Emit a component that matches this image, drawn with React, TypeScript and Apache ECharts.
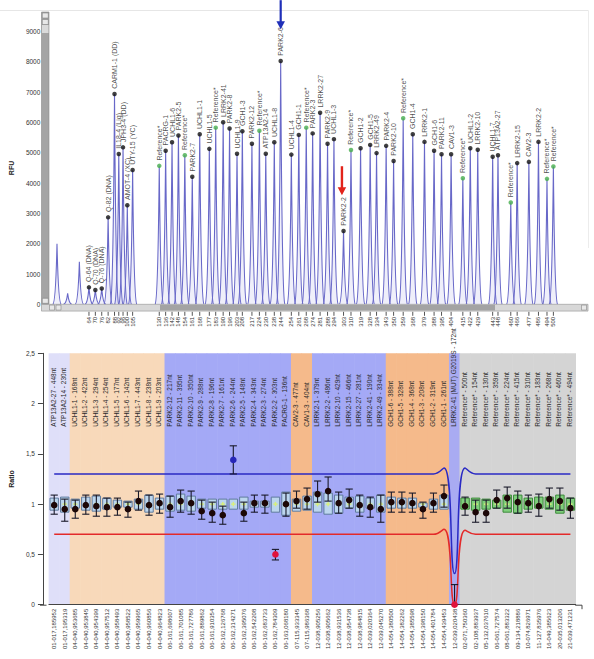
import React, { useEffect, useRef } from "react";
import * as echarts from "echarts";

const FONT = 'Arial, "Liberation Sans", Helvetica, sans-serif';

// ================= Top panel: electropherogram =================
const peakSizes = [
  64, 70, 76, 82, 88, 92, 96, 100, 105,
  130, 136, 142, 148, 154, 161, 168, 177, 183, 190,
  196, 203, 208, 217, 224, 230, 238, 244, 254, 261,
  268, 274, 281, 288, 294, 303, 310, 319, 328, 334,
  343, 350, 359, 368, 379, 388, 395, 404, 415, 422,
  429, 443, 448, 460, 466, 477, 486, 494, 500,
];
const peakNames = [
  "Q-64 (DNA)", "Q-70 (DNA)", "Q-76 (DNA)", "Q-82 (DNA)", "CARM1-1 (DD)", "IL18-4 (Lig)", "JPH3-4 (DD)", "AMOT-4 (XC)", "UTY-15 (YC)",
  "Reference*", "PACRG-1", "UCHL1-6", "PARK2-5", "Reference*", "PARK2-7", "UCHL1-1", "UCHL1-5", "Reference*", "LRRK2-41",
  "PARK2-8", "UCHL1-9", "GCH1-3", "PARK2-12", "Reference*", "ATP13A2-14", "UCHL1-8", "PARK2-6", "UCHL1-4", "GCH1-1",
  "Reference*", "PARK2-3", "LRRK2-27", "PARK2-9", "UCHL1-3", "PARK2-2", "Reference*", "GCH1-2", "GCH1-5", "LRRK2-49",
  "PARK2-4", "PARK2-10", "Reference*", "GCH1-4", "LRRK2-1", "GCH1-6", "PARK2-11", "CAV1-3", "Reference*", "UCHL1-2",
  "LRRK2-10", "UCHL1-7", "ATP13A2-27", "Reference*", "LRRK2-15", "CAV2-3", "LRRK2-2", "Reference*", "Reference*",
];
const peakRFU = [
  560, 470, 520, 2870, 6940, 4960, 5180, 3270, 4430,
  4570, 5070, 5350, 5570, 4920, 4210, 5610, 5130, 5830, 6010,
  5800, 4970, 5710, 5300, 5730, 4970, 5350, 8030, 4940, 5590,
  5830, 5640, 6320, 5300, 5450, 2420, 5090, 5150, 5260, 4990,
  5230, 4730, 6140, 5610, 5360, 5070, 4950, 4950, 4160, 5150,
  5100, 4870, 4920, 3360, 4660, 4700, 5360, 4140, 4550,
];
const primerSizes = [34, 44, 55];
const primerRFU = [2000, 360, 1400];

const sizeMin = 33.4;
const sizeMax = 532.5;
const rfuMax = 9000;
const rfuStep = 1000;

const arrowMarks = [
  { size: 244, tipRFU: 9080, color: "#1f2fb8", width: 2.2 },
  { size: 301.5, tipRFU: 3600, color: "#e2231a", width: 2.4 },
];

// ================= Bottom panel: ratio chart =================
const probeLabels = [
  "ATP13A2-27 - 448nt", "ATP13A2-14 - 230nt",
  "UCHL1-1 - 168nt", "UCHL1-2 - 422nt", "UCHL1-3 - 294nt", "UCHL1-4 - 254nt", "UCHL1-5 - 177nt", "UCHL1-6 - 142nt", "UCHL1-7 - 443nt", "UCHL1-8 - 238nt", "UCHL1-9 - 203nt",
  "PARK2-12 - 217nt", "PARK2-11 - 395nt", "PARK2-10 - 350nt", "PARK2-9 - 288nt", "PARK2-8 - 196nt", "PARK2-7 - 161nt", "PARK2-6 - 244nt", "PARK2-5 - 148nt", "PARK2-4 - 343nt", "PARK2-3 - 274nt", "PARK2-2 - 303nt", "PACRG-1 - 136nt",
  "CAV2-3 - 477nt", "CAV1-3 - 404nt",
  "LRRK2-1 - 379nt", "LRRK2-2 - 486nt", "LRRK2-10 - 429nt", "LRRK2-15 - 466nt", "LRRK2-27 - 281nt", "LRRK2-41 - 190nt", "LRRK2-49 - 334nt",
  "GCH1-6 - 388nt", "GCH1-5 - 328nt", "GCH1-4 - 368nt", "GCH1-3 - 208nt", "GCH1-2 - 319nt", "GCH1-1 - 261nt",
  "LRRK2-41 (MUT) G2019S - 172nt",
  "Reference* - 500nt", "Reference* - 154nt", "Reference* - 130nt", "Reference* - 359nt", "Reference* - 224nt", "Reference* - 415nt", "Reference* - 310nt", "Reference* - 183nt", "Reference* - 268nt", "Reference* - 460nt", "Reference* - 494nt",
];
const chromPos = [
  "01-017,185952", "01-017,195319",
  "04-040,953685", "04-040,953845", "04-040,954399", "04-040,957512", "04-040,958493", "04-040,958522", "04-040,959965", "04-040,960856", "04-040,964823",
  "06-161,698607", "06-161,701085", "06-161,727786", "06-161,889862", "06-161,910354", "06-162,126768", "06-162,314271", "06-162,395076", "06-162,542208", "06-162,683733", "06-162,784309", "06-163,068180",
  "07-115,933345", "07-115,986368",
  "12-038,905256", "12-038,905662", "12-038,931536", "12-038,954738", "12-038,984815", "12-039,020364", "12-039,045270",
  "14-054,380500", "14-054,382262", "14-054,385598", "14-054,398150", "14-054,401784", "14-054,439453",
  "12-039,020438",
  "02-071,750360", "02-108,883937", "05-132,037610", "06-061,727574", "08-061,883322", "09-134,218886", "10-074,826971", "11-127,835976", "16-049,385623", "20-035,013206", "21-039,471231",
];
const probeGroup = [
  "ATP13A2", "ATP13A2",
  "UCHL1", "UCHL1", "UCHL1", "UCHL1", "UCHL1", "UCHL1", "UCHL1", "UCHL1", "UCHL1",
  "PARK2", "PARK2", "PARK2", "PARK2", "PARK2", "PARK2", "PARK2", "PARK2", "PARK2", "PARK2", "PARK2", "PARK2",
  "CAV", "CAV",
  "LRRK2", "LRRK2", "LRRK2", "LRRK2", "LRRK2", "LRRK2", "LRRK2",
  "GCH1", "GCH1", "GCH1", "GCH1", "GCH1", "GCH1",
  "MUT",
  "Reference", "Reference", "Reference", "Reference", "Reference", "Reference", "Reference", "Reference", "Reference", "Reference", "Reference",
];
const groupColors: Record<string, string> = {
  ATP13A2: "#dfdff9",
  UCHL1: "#f8d9ba",
  PARK2: "#a4a9f6",
  CAV: "#f5ba8b",
  LRRK2: "#a4a9f6",
  GCH1: "#f5ba8b",
  MUT: "#a9abf2",
  Reference: "#d4d4d4",
};
const ratio = [
  0.99, 0.95,
  0.95, 0.99, 0.98, 0.97, 0.97, 0.95, 1.03, 0.99, 1.01,
  0.97, 1.03, 1.01, 0.93, 0.91, 0.89, 1.44, 0.91, 1.01, 1.01, 0.5, 1.0,
  1.03, 1.05,
  1.1, 1.13, 1.01, 1.04, 0.99, 0.97, 0.95,
  1.02, 1.02, 1.01, 0.95, 1.01, 1.08,
  0.0,
  0.98, 0.92, 0.91, 1.04, 1.06, 1.02, 1.01, 0.98, 1.05, 1.03, 0.96,
];
const ratioLow = [
  0.9, 0.83,
  0.86, 0.9, 0.88, 0.88, 0.89, 0.87, 0.94, 0.89, 0.91,
  0.87, 0.92, 0.9, 0.85, 0.82, 0.8, 1.3, 0.83, 0.92, 0.91, 0.445, 0.88,
  0.96, 0.95,
  1.02, 1.03, 0.91, 0.96, 0.88, 0.87, 0.82,
  0.92, 0.92, 0.92, 0.86, 0.92, 0.97,
  0.0,
  0.89, 0.82, 0.82, 0.96, 0.96, 0.91, 0.92, 0.88, 0.96, 0.94, 0.86,
];
const ratioHigh = [
  1.09, 1.05,
  1.04, 1.09, 1.09, 1.06, 1.06, 1.02, 1.13, 1.09, 1.1,
  1.08, 1.14, 1.13, 1.04, 1.02, 0.98, 1.58, 1.02, 1.09, 1.09, 0.55, 1.11,
  1.13, 1.16,
  1.23, 1.27, 1.12, 1.15, 1.09, 1.07, 1.09,
  1.12, 1.12, 1.11, 1.02, 1.11, 1.19,
  0.2,
  1.07, 1.04, 1.04, 1.14, 1.17, 1.13, 1.09, 1.1, 1.16, 1.16, 1.06,
];
const boxLow = [
  0.94, 0.92,
  0.96, 0.94, 0.93, 0.95, 0.97, 0.97, 0.95, 0.92, 0.95,
  0.93, 0.94, 0.93, 0.96, 0.95, 0.95, 0.95, 0.95, 0.97, 0.97, 0.92, 0.89,
  0.93, 0.94,
  0.92, 0.9, 0.91, 0.96, 0.92, 0.96, 0.92,
  0.96, 0.96, 0.96, 0.97, 0.95, 0.95,
  null,
  0.95, 0.94, 0.95, 0.96, 0.92, 0.91, 0.95, 0.96, 0.95, 0.91, 0.94,
];
const boxHigh = [
  1.06, 1.07,
  1.05, 1.07, 1.08, 1.06, 1.04, 1.03, 1.05, 1.09, 1.06,
  1.08, 1.1, 1.08, 1.05, 1.05, 1.05, 1.05, 1.07, 1.03, 1.03, 1.07, 1.12,
  1.05, 1.08,
  1.12, 1.11, 1.09, 1.07, 1.08, 1.06, 1.09,
  1.07, 1.06, 1.06, 1.01, 1.05, 1.09,
  null,
  1.06, 1.06, 1.05, 1.04, 1.09, 1.09, 1.06, 1.07, 1.07, 1.09, 1.06,
];
const boxMid = [
  1, 1,
  1, 1, 1, 1, 1, 1, 1, 1, 1,
  1, 1, 1, 1, 1, 1, 1, 1, 1, 1, 1, 1,
  1, 1,
  1, 1, 1, 1, 1, 1, 1,
  1, 1, 1, 1, 1, 1,
  null,
  1, 1, 1, 1, 1, 1, 1, 1, 1, 1, 1,
];
const upperLimit = [
  1.3, 1.3,
  1.3, 1.3, 1.3, 1.3, 1.3, 1.3, 1.3, 1.3, 1.3,
  1.3, 1.3, 1.3, 1.3, 1.3, 1.3, 1.3, 1.3, 1.3, 1.3, 1.3, 1.3,
  1.3, 1.3,
  1.3, 1.3, 1.3, 1.3, 1.3, 1.3, 1.3,
  1.3, 1.3, 1.3, 1.3, 1.3, 1.36,
  0.31,
  1.36, 1.3, 1.3, 1.3, 1.3, 1.3, 1.3, 1.3, 1.3, 1.3, 1.3,
];
const lowerLimit = [
  0.7, 0.7,
  0.7, 0.7, 0.7, 0.7, 0.7, 0.7, 0.7, 0.7, 0.7,
  0.7, 0.7, 0.7, 0.7, 0.7, 0.7, 0.7, 0.7, 0.7, 0.7, 0.7, 0.7,
  0.7, 0.7,
  0.7, 0.7, 0.7, 0.7, 0.7, 0.7, 0.7,
  0.7, 0.7, 0.7, 0.7, 0.7, 0.75,
  0.0,
  0.74, 0.7, 0.7, 0.7, 0.7, 0.7, 0.7, 0.7, 0.7, 0.7, 0.7,
];
const ratioMax = 2.5;
const ratioStep = 0.5;
const labelAnchorRatio = 1.77;

// ================= layout =================
const TOP = { left: 49, top: 31.6, width: 539, height: 272.7 };
const BOT = { left: 46, top: 353.3, width: 529.7, height: 251.4 };

function buildOption(): any {
  const allPeaks = [
    ...primerSizes.map((s, i) => [s, primerRFU[i]]),
    ...peakSizes.map((s, i) => [s, peakRFU[i]]),
  ];
  return {
    animation: false,
    backgroundColor: "#ffffff",
    textStyle: { fontFamily: FONT },
    grid: [
      { left: TOP.left, top: TOP.top, width: TOP.width, height: TOP.height },
      { left: BOT.left, top: BOT.top, width: BOT.width, height: BOT.height },
    ],
    xAxis: [
      { gridIndex: 0, type: "value", min: sizeMin, max: sizeMax, show: false },
      {
        gridIndex: 1,
        type: "category",
        data: chromPos,
        boundaryGap: true,
        axisLine: { lineStyle: { color: "#444", width: 1 } },
        axisTick: { alignWithLabel: true, length: 4, lineStyle: { color: "#444" } },
        axisLabel: { rotate: 90, interval: 0, fontSize: 6, color: "#333", margin: 4, fontFamily: FONT },
        splitLine: { show: false },
      },
    ],
    yAxis: [
      {
        gridIndex: 0,
        type: "value",
        min: 0,
        max: rfuMax,
        interval: rfuStep,
        offset: 8,
        axisLine: { show: false },
        axisTick: { show: true, length: 6, lineStyle: { color: "#555" } },
        axisLabel: { fontSize: 6.5, color: "#333", margin: 8, fontFamily: FONT, formatter: (v: number) => String(v) },
        splitLine: { show: false },
        name: "RFU",
        nameLocation: "middle",
        nameGap: 31,
        nameTextStyle: { fontWeight: "bold", fontSize: 7, color: "#222", fontFamily: FONT },
      },
      {
        gridIndex: 1,
        type: "value",
        min: 0,
        max: ratioMax,
        interval: ratioStep,
        offset: 6,
        axisLine: { show: true, lineStyle: { color: "#444" } },
        axisTick: { show: true, length: 5, lineStyle: { color: "#444" } },
        axisLabel: {
          fontSize: 6.5,
          color: "#333",
          margin: 8,
          fontFamily: FONT,
          formatter: (v: number) => String(v).replace(".", ","),
        },
        splitLine: { show: false },
        name: "Ratio",
        nameLocation: "middle",
        nameGap: 25,
        nameTextStyle: { fontWeight: "bold", fontSize: 7, color: "#222", fontFamily: FONT },
      },
    ],
    series: [
      // ---- peaks
      {
        type: "custom",
        xAxisIndex: 0,
        yAxisIndex: 0,
        clip: false,
        silent: true,
        z: 2,
        data: allPeaks,
        renderItem: (params: any, api: any) => {
          const s = api.value(0);
          const h = api.value(1);
          const top = api.coord([s, h]);
          const base = api.coord([s, 0]);
          const tx = top[0];
          const ty = top[1];
          const by = base[1];
          const H = by - ty;
          const w = 4.2;
          const d =
            `M${tx - w},${by} C${tx - w * 0.3},${by - H * 0.02} ${tx - 0.5},${ty + H * 0.35} ${tx},${ty} ` +
            `C${tx + 0.5},${ty + H * 0.35} ${tx + w * 0.3},${by - H * 0.02} ${tx + w},${by}`;
          return {
            type: "path",
            shape: { pathData: d },
            style: { fill: "rgba(120,120,210,0.12)", stroke: "#6868c8", lineWidth: 1.1 },
          };
        },
      },
      // ---- peak dots + names
      {
        type: "scatter",
        xAxisIndex: 0,
        yAxisIndex: 0,
        symbolSize: 4.5,
        z: 5,
        silent: true,
        data: peakSizes.map((s, i) => ({
          value: [s, peakRFU[i]],
          name: peakNames[i],
          itemStyle: { color: peakNames[i].startsWith("Reference") ? "#46ae4e" : "#111111" },
        })),
        label: {
          show: true,
          formatter: "{b}",
          position: "top",
          rotate: 90,
          align: "left",
          verticalAlign: "middle",
          distance: 3,
          fontSize: 7,
          color: "#222",
          fontFamily: FONT,
        },
      },
      // ---- size ticks & labels under the scroll bar
      {
        type: "custom",
        xAxisIndex: 0,
        yAxisIndex: 0,
        clip: false,
        silent: true,
        z: 5,
        data: peakSizes.map((s) => [s, 0]),
        renderItem: (params: any, api: any) => {
          const p = api.coord([api.value(0), 0]);
          const idx = params.dataIndex;
          return {
            type: "group",
            children: [
              { type: "line", shape: { x1: p[0], y1: p[1] + 7.5, x2: p[0], y2: p[1] + 11.5 }, style: { stroke: "#555", lineWidth: 1 } },
              {
                type: "text",
                x: p[0],
                y: p[1] + 12.5,
                rotation: Math.PI / 2,
                style: { text: String(peakSizes[idx]), fontSize: 6, fill: "#333", align: "right", verticalAlign: "middle", fontFamily: FONT },
              },
            ],
          };
        },
      },
      // ---- coloured gene bands
      {
        type: "custom",
        xAxisIndex: 1,
        yAxisIndex: 1,
        silent: true,
        z: 0,
        data: chromPos.map((_, i) => [i, ratioMax]),
        renderItem: (params: any, api: any) => {
          const i = params.dataIndex;
          const top = api.coord([i, api.value(1)]);
          const bot = api.coord([i, 0]);
          const w = api.size([1, 0])[0];
          return {
            type: "rect",
            shape: { x: top[0] - w / 2 - 0.3, y: top[1], width: w + 0.6, height: bot[1] - top[1] },
            style: { fill: groupColors[probeGroup[i]] },
          };
        },
      },
      // ---- probe name labels
      {
        type: "custom",
        xAxisIndex: 1,
        yAxisIndex: 1,
        silent: true,
        clip: false,
        z: 1,
        data: chromPos.map((_, i) => [i, labelAnchorRatio]),
        renderItem: (params: any, api: any) => {
          const i = params.dataIndex;
          const p = api.coord([i, api.value(1)]);
          return {
            type: "text",
            x: p[0] - 1,
            y: p[1],
            rotation: Math.PI / 2,
            style: { text: probeLabels[i], fontSize: 6.5, fill: "#2a2a2a", align: "left", verticalAlign: "middle", fontFamily: FONT },
          };
        },
      },
      // ---- threshold lines
      {
        type: "line",
        xAxisIndex: 1,
        yAxisIndex: 1,
        data: upperLimit,
        smooth: 0.5,
        symbol: "none",
        silent: true,
        z: 3,
        lineStyle: { color: "#2a2ac4", width: 1.5 },
      },
      {
        type: "line",
        xAxisIndex: 1,
        yAxisIndex: 1,
        data: lowerLimit,
        smooth: 0.5,
        symbol: "none",
        silent: true,
        z: 3,
        lineStyle: { color: "#e32a2a", width: 1.5 },
      },
      // ---- boxes, error bars, ratio dots
      {
        type: "custom",
        xAxisIndex: 1,
        yAxisIndex: 1,
        silent: true,
        clip: false,
        z: 4,
        data: ratio.map((r, i) => [i, r]),
        renderItem: (params: any, api: any) => {
          const i = params.dataIndex;
          const cw = api.size([1, 0])[0];
          const cx = api.coord([i, 1])[0];
          const kids: any[] = [];
          const bl = boxLow[i];
          const bh = boxHigh[i];
          if (bl != null && bh != null) {
            const yTop = api.coord([i, bh])[1];
            const yBot = api.coord([i, bl])[1];
            const bw = cw * 0.8;
            const isRef = probeGroup[i] === "Reference";
            kids.push({
              type: "rect",
              shape: { x: cx - bw / 2, y: yTop, width: bw, height: yBot - yTop },
              style: { fill: isRef ? "#80cf7c" : "#bcd6ee", stroke: isRef ? "#3c8a3a" : "#5f7b9e", lineWidth: 1 },
            });
            const bm = boxMid[i];
            if (bm != null) {
              const ym = api.coord([i, bm])[1];
              kids.push({ type: "line", shape: { x1: cx - 2.2, y1: ym, x2: cx + 2.2, y2: ym }, style: { stroke: "#d8ef7c", lineWidth: 1.4 } });
              kids.push({ type: "line", shape: { x1: cx, y1: ym - 2.2, x2: cx, y2: ym + 2.2 }, style: { stroke: "#d8ef7c", lineWidth: 1.4 } });
            }
          }
          const yl = api.coord([i, ratioLow[i]])[1];
          const yh = api.coord([i, ratioHigh[i]])[1];
          const cap = 3.6;
          const wc = "#1a1a2a";
          if (Math.abs(yl - yh) > 0.5) {
            kids.push({ type: "line", shape: { x1: cx, y1: yh, x2: cx, y2: yl }, style: { stroke: wc, lineWidth: 1.1 } });
            kids.push({ type: "line", shape: { x1: cx - cap, y1: yh, x2: cx + cap, y2: yh }, style: { stroke: wc, lineWidth: 1.1 } });
            kids.push({ type: "line", shape: { x1: cx - cap, y1: yl, x2: cx + cap, y2: yl }, style: { stroke: wc, lineWidth: 1.1 } });
          }
          const r = ratio[i];
          const color = r > upperLimit[i] ? "#2626b8" : r <= lowerLimit[i] ? "#e0123c" : "#1c0707";
          const yr = api.coord([i, r])[1];
          kids.push({ type: "circle", shape: { cx, cy: yr, r: 3.3 }, style: { fill: color } });
          return { type: "group", children: kids };
        },
      },
    ],
  };
}

function buildGraphics(chart: any): any[] {
  const els: any[] = [];
  const topBase = TOP.top + TOP.height;
  const botBase = BOT.top + BOT.height;
  // faint frame of the upper panel
  els.push({ type: "line", z: 1, shape: { x1: 0, y1: 10.5, x2: 588.5, y2: 10.5 }, style: { stroke: "#e6e6e6", lineWidth: 1 } });
  els.push({ type: "line", z: 1, shape: { x1: 588.5, y1: 10.5, x2: 588.5, y2: 248 }, style: { stroke: "#ececec", lineWidth: 1 } });
  // vertical scroll bar
  els.push({ type: "rect", z: 20, shape: { x: 41.5, y: 12, width: 7.5, height: topBase - 12 }, style: { fill: "#a4a4a4", stroke: "#8a8a8a", lineWidth: 0.6 } });
  els.push({ type: "rect", z: 21, shape: { x: 42, y: 25, width: 6.5, height: 8 }, style: { fill: "#dadada" } });
  els.push({ type: "rect", z: 21, shape: { x: 42.3, y: 13, width: 6, height: 5 }, style: { fill: "#e8e8e8", stroke: "#777", lineWidth: 0.5 } });
  els.push({ type: "rect", z: 21, shape: { x: 42.3, y: 19.5, width: 6, height: 5 }, style: { fill: "#e8e8e8", stroke: "#777", lineWidth: 0.5 } });
  els.push({ type: "rect", z: 21, shape: { x: 42.3, y: topBase - 6, width: 6, height: 5 }, style: { fill: "#e8e8e8", stroke: "#777", lineWidth: 0.5 } });
  // horizontal scroll bar
  els.push({ type: "rect", z: 20, shape: { x: 41.5, y: topBase, width: 546.5, height: 6.8 }, style: { fill: "#d8d8d8", stroke: "#8e8e8e", lineWidth: 0.6 } });
  els.push({ type: "rect", z: 21, shape: { x: 160, y: topBase + 0.5, width: 335, height: 5.8 }, style: { fill: "#a3a3a3" } });
  els.push({ type: "rect", z: 21, shape: { x: 49.5, y: topBase + 0.8, width: 5, height: 5 }, style: { fill: "#e8e8e8", stroke: "#777", lineWidth: 0.5 } });
  els.push({ type: "rect", z: 21, shape: { x: 56, y: topBase + 0.8, width: 5, height: 5 }, style: { fill: "#e8e8e8", stroke: "#777", lineWidth: 0.5 } });
  els.push({ type: "rect", z: 21, shape: { x: 581.5, y: topBase + 0.8, width: 5, height: 5 }, style: { fill: "#e8e8e8", stroke: "#777", lineWidth: 0.5 } });
  // arrows
  arrowMarks.forEach((a) => {
    const tip = chart.convertToPixel({ gridIndex: 0 }, [a.size, a.tipRFU]) as number[];
    const headH = 8;
    const headW = 8.5;
    const shaft = 21;
    els.push({ type: "line", z: 30, shape: { x1: tip[0], y1: tip[1] - headH - shaft, x2: tip[0], y2: tip[1] - headH + 1 }, style: { stroke: a.color, lineWidth: a.width } });
    els.push({
      type: "polygon",
      z: 30,
      shape: { points: [[tip[0] - headW / 2, tip[1] - headH], [tip[0] + headW / 2, tip[1] - headH], [tip[0], tip[1]]] },
      style: { fill: a.color },
    });
  });
  // extension of lower x axis line
  els.push({ type: "line", z: 10, shape: { x1: 40, y1: botBase + 0.5, x2: BOT.left + 0.5, y2: botBase + 0.5 }, style: { stroke: "#444", lineWidth: 1 } });
  els.push({ type: "line", z: 10, shape: { x1: BOT.left + BOT.width - 0.5, y1: botBase + 0.5, x2: 582, y2: botBase + 0.5 }, style: { stroke: "#444", lineWidth: 1 } });
  els.push({ type: "line", z: 10, shape: { x1: 582, y1: botBase + 0.5, x2: 582, y2: botBase + 4.5 }, style: { stroke: "#444", lineWidth: 1 } });
  return els;
}

export default function App() {
  const ref = useRef<HTMLDivElement>(null);
  useEffect(() => {
    if (!ref.current) return;
    const chart = echarts.init(ref.current, null, { renderer: "svg" });
    chart.setOption(buildOption());
    chart.setOption({ graphic: buildGraphics(chart) });
    return () => chart.dispose();
  }, []);
  return (
    <div
      ref={ref}
      style={{ position: "absolute", left: 0, top: 0, width: 594, height: 659, background: "#ffffff" }}
    />
  );
}
